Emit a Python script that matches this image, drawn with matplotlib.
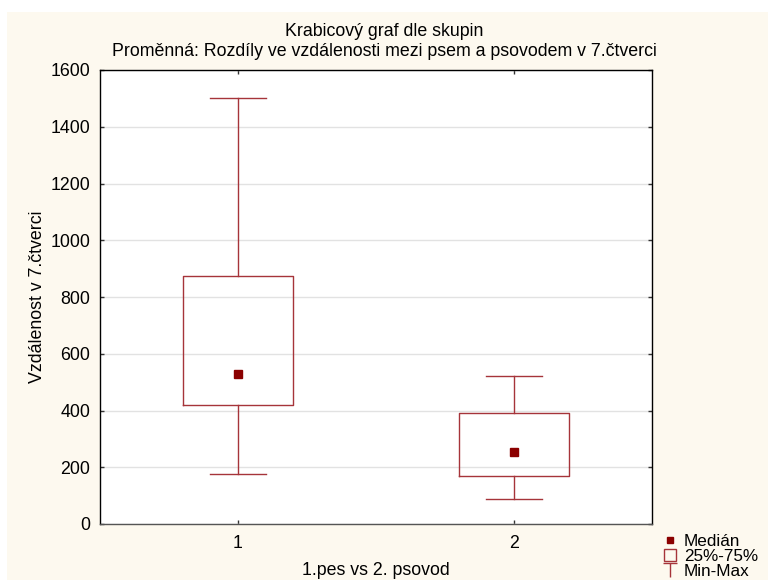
import matplotlib
matplotlib.use('Agg')
import matplotlib.pyplot as plt
from matplotlib.lines import Line2D
from matplotlib.patches import Patch, Rectangle
from matplotlib.path import Path

# box plot summary per group
groups = ['1', '2']
positions = [1, 2]
medians = [530, 253]
q1 = [418, 170]
q3 = [873, 390]
mins = [175, 87]
maxs = [1500, 522]

title_lines = ['Krabicový graf dle skupin',
               'Proměnná: Rozdíly ve vzdálenosti mezi psem a psovodem v 7.čtverci']
xlabel = '1.pes vs 2. psovod'
ylabel = 'Vzdálenost v 7.čtverci'
yticks = [0, 200, 400, 600, 800, 1000, 1200, 1400, 1600]

red = '#A6343A'
dark = '#8B0000'
cream = '#FDF9EF'

plt.rcParams['font.family'] = ['Liberation Sans', 'DejaVu Sans']
plt.rcParams['font.size'] = 12.8

fig = plt.figure(figsize=(7.68, 5.82), dpi=100)
fig.patch.set_facecolor('white')
# cream panel behind everything (white strip at top/left, like the source)
fig.patches.append(Rectangle((7 / 768, 2 / 582), 1, 1 - 14 / 582,
                             transform=fig.transFigure, facecolor=cream,
                             edgecolor='none', zorder=-10))

ax = fig.add_axes([100 / 768, 1 - 524 / 582, 552 / 768, 454 / 582])
ax.set_facecolor('white')

stats = []
for i in range(len(groups)):
    stats.append({'med': medians[i], 'q1': q1[i], 'q3': q3[i],
                  'whislo': mins[i], 'whishi': maxs[i],
                  'mean': medians[i], 'fliers': [], 'label': groups[i]})

line_kw = dict(color=red, linewidth=1.0)
ax.bxp(stats, positions=positions, widths=0.4, capwidths=0.2,
       showmeans=True, showfliers=False,
       boxprops=line_kw, whiskerprops=line_kw, capprops=line_kw,
       medianprops=dict(visible=False),
       meanprops=dict(marker='s', markersize=5.5, markerfacecolor=dark,
                      markeredgecolor=dark),
       zorder=3)

ax.set_xlim(0.5, 2.5)
ax.set_ylim(0, 1600)
ax.set_yticks(yticks)
ax.set_xticks(positions)
ax.set_xticklabels(groups)
ax.yaxis.grid(True, color='#E2E2E2', linewidth=1)
ax.set_axisbelow(True)
ax.tick_params(direction='in', length=3, width=1, top=True, right=True,
               colors='#333333', labelcolor='black')
ax.tick_params(axis='y', pad=7)
ax.tick_params(axis='x', pad=8)
for s in ax.spines.values():
    s.set_linewidth(1)
    s.set_color('black')
ax.spines['bottom'].set_color('#555555')

ax.set_xlabel(xlabel, labelpad=7)
ax.set_ylabel(ylabel, labelpad=3)

fig.text(0.5, 1 - 32 / 582, title_lines[0], ha='center', va='center')
fig.text(0.5, 1 - 52 / 582, title_lines[1], ha='center', va='center')

# legend for the box parts
t_marker = Path([(-1, 1), (1, 1), (0, 1), (0, -1)],
                [Path.MOVETO, Path.LINETO, Path.MOVETO, Path.LINETO])
handles = [
    Line2D([], [], linestyle='none', marker='s', markersize=5,
           markerfacecolor=dark, markeredgecolor=dark),
    Patch(facecolor='none', edgecolor=red, linewidth=1),
    Line2D([], [], linestyle='none', marker=t_marker, markersize=10,
           markeredgecolor=red, markeredgewidth=1),
]
labels = ['Medián', '25%-75%', 'Min-Max']
fig.legend(handles, labels, loc='upper left',
           bbox_to_anchor=(664 / 768, 1 - 534 / 582), frameon=False,
           handlelength=0.7, handletextpad=0.45, labelspacing=0.0,
           borderpad=0, borderaxespad=0, fontsize=12.3)

fig.savefig('out.png', dpi=100)
